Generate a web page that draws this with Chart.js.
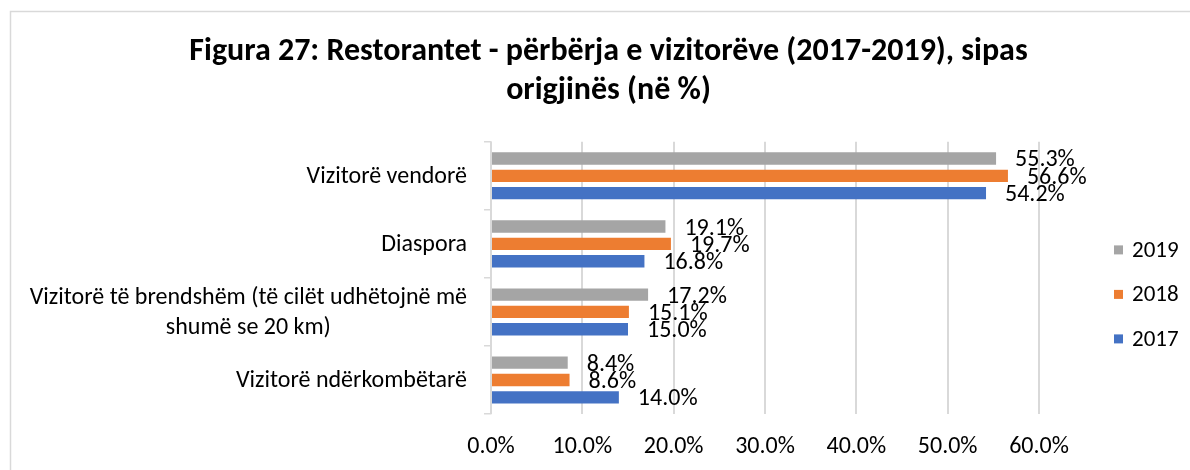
<!DOCTYPE html>
<html>
<head>
<meta charset="utf-8">
<script src="https://cdn.jsdelivr.net/npm/chart.js@4"></script>
<style>
  body { margin: 0; background: #fff; }
  #wrap { width: 1190px; height: 470px; }
</style>
</head>
<body>
<div id="wrap"><canvas id="myChart" width="1190" height="470"></canvas></div>
<script>
const categories = [
	['Vizitorë vendorë'],
	['Diaspora'],
	['Vizitorë të brendshëm (të cilët udhëtojnë më', 'shumë se 20 km)'],
	['Vizitorë ndërkombëtarë']
];
const years = ['2019', '2018', '2017'];
const values2019 = [55.3, 19.1, 17.2, 8.4];
const values2018 = [56.6, 19.7, 15.1, 8.6];
const values2017 = [54.2, 16.8, 15.0, 14.0];
const colours = ['#a5a5a5', '#ed7d31', '#4472c4'];
const xTicks = [0, 10, 20, 30, 40, 50, 60];

const FONT = '"Carlito", "Lato", sans-serif';

// frame around the figure
const frame = {
	id: 'frame',
	beforeDraw(chart) {
		const c = chart.ctx;
		c.save();
		c.strokeStyle = '#d9d9d9';
		c.lineWidth = 1.5;
		c.beginPath();
		c.moveTo(10.5, chart.height);
		c.lineTo(10.5, 11.5);
		c.lineTo(chart.width, 11.5);
		c.stroke();
		c.restore();
	}
};

// category names left of the axis : block right-aligned, lines centred on each other
const catLabels = {
	id: 'catLabels',
	afterDraw(chart) {
		const c = chart.ctx;
		const y = chart.scales.y;
		c.save();
		c.font = '24px ' + FONT;
		c.fillStyle = '#000';
		c.textAlign = 'center';
		c.textBaseline = 'middle';
		const right = chart.chartArea.left - 24;
		categories.forEach((lines, i) => {
			const w = Math.max(...lines.map(l => c.measureText(l).width));
			const cx = right - w / 2;
			const cy = y.getPixelForValue(i) + 1;
			lines.forEach((l, k) => {
				c.fillText(l, cx, cy + (k - (lines.length - 1) / 2) * 30);
			});
		});
		c.restore();
	}
};

// value labels after each bar
const valueLabels = {
	id: 'valueLabels',
	afterDatasetsDraw(chart) {
		const c = chart.ctx;
		c.save();
		c.font = '24px ' + FONT;
		c.fillStyle = '#000';
		c.textAlign = 'left';
		c.textBaseline = 'middle';
		chart.data.datasets.forEach((ds, di) => {
			chart.getDatasetMeta(di).data.forEach((bar, i) => {
				c.fillText(ds.data[i].toFixed(1) + '%', bar.x + 19, bar.y + 2);
			});
		});
		c.restore();
	}
};

// legend on the right
const sideLegend = {
	id: 'sideLegend',
	afterDraw(chart) {
		const c = chart.ctx;
		const a = chart.chartArea;
		c.save();
		c.font = '23px ' + FONT;
		c.textAlign = 'left';
		c.textBaseline = 'middle';
		const x = a.right + 75;
		const mid = (a.top + a.bottom) / 2 + 16.5;
		const n = chart.data.datasets.length;
		chart.data.datasets.forEach((ds, i) => {
			const cy = mid + (i - (n - 1) / 2) * 44.5;
			c.fillStyle = ds.backgroundColor;
			c.fillRect(x, cy - 4.5, 9, 9);
			c.fillStyle = '#000';
			c.fillText(ds.label, x + 18, cy + 1);
		});
		c.restore();
	}
};

const ctx = document.getElementById('myChart');

new Chart(ctx, {
	type: 'bar',
	data: {
		labels: categories.map(l => l.join(' ')),
		datasets: [
			{ label: years[0], data: values2019, backgroundColor: colours[0] },
			{ label: years[1], data: values2018, backgroundColor: colours[1] },
			{ label: years[2], data: values2017, backgroundColor: colours[2] }
		]
	},
	options: {
		indexAxis: 'y',
		responsive: false,
		animation: false,
		devicePixelRatio: 1,
		categoryPercentage: 0.765,
		barPercentage: 0.71,
		layout: {
			padding: { left: 178, right: 151, top: 12, bottom: 8 }
		},
		plugins: {
			legend: { display: false },
			tooltip: { enabled: false },
			title: {
				display: true,
				text: ['Figura 27: Restorantet - përbërja e vizitorëve (2017-2019), sipas', 'origjinës (në %)'],
				color: '#000',
				font: { family: FONT, size: 32, weight: 'bold', lineHeight: 1.2 },
				padding: { top: 21, bottom: 32 }
			}
		},
		scales: {
			x: {
				min: 0,
				max: 60,
				afterBuildTicks: (s) => { s.ticks = xTicks.map(v => ({ value: v })); },
				afterFit: (s) => { s.height = 48; },
				grid: { color: '#d9d9d9', lineWidth: 2, drawTicks: false },
				border: { display: false },
				ticks: {
					padding: 19,
					color: '#000',
					font: { family: FONT, size: 24 },
					callback: (v) => Number(v).toFixed(1) + '%'
				}
			},
			y: {
				afterFit: (s) => { s.width = 313; },
				grid: { drawOnChartArea: false, drawTicks: true, tickLength: 7, color: '#d9d9d9', lineWidth: 1.5 },
				border: { display: true, color: '#d9d9d9', width: 1.5 },
				ticks: { display: false }
			}
		}
	},
	plugins: [frame, catLabels, valueLabels, sideLegend]
});
</script>
</body>
</html>
